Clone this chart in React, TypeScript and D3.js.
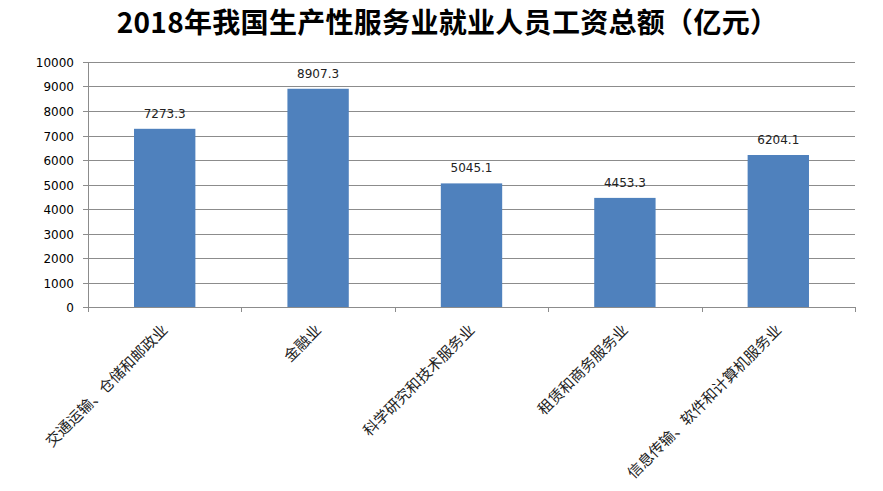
import { useMemo } from "react";
import * as d3 from "d3";

const categories = [
  "交通运输、仓储和邮政业",
  "金融业",
  "科学研究和技术服务业",
  "租赁和商务服务业",
  "信息传输、软件和计算机服务业",
];
const values = [7273.3, 8907.3, 5045.1, 4453.3, 6204.1];
const yTicks = [0, 1000, 2000, 3000, 4000, 5000, 6000, 7000, 8000, 9000, 10000];
const title = "2018年我国生产性服务业就业人员工资总额（亿元）";

const W = 883;
const H = 491;
const margin = { top: 62, right: 28, bottom: 184, left: 88 };

export default function App() {
  const innerW = W - margin.left - margin.right;
  const innerH = H - margin.top - margin.bottom;

  const x = useMemo(
    () => d3.scaleBand<string>().domain(categories).range([0, innerW]).paddingInner(0.6).paddingOuter(0.3),
    [innerW]
  );
  const y = useMemo(() => d3.scaleLinear().domain([0, 10000]).range([innerH, 0]), [innerH]);

  const step = x.step();
  const numFont = "'DejaVu Sans', Verdana, sans-serif";

  return (
    <svg width={W} height={H} style={{ position: "absolute", left: 0, top: 0, background: "#fff" }}>
      <text
        x={W / 2 + 6}
        y={33}
        textAnchor="middle"
        fontFamily="'Noto Sans CJK SC', sans-serif"
        fontWeight="bold"
        fontSize={28}
        letterSpacing={0.3}
        fill="#000"
      >
        {title}
      </text>
      <g transform={`translate(${margin.left},${margin.top})`}>
        {/* grid lines */}
        {yTicks.map((t) => (
          <line key={"g" + t} x1={0} x2={innerW} y1={Math.round(y(t)) + 0.5} y2={Math.round(y(t)) + 0.5} stroke="#8c8c8c" strokeWidth={1} />
        ))}
        {/* y axis */}
        <line x1={0.5} x2={0.5} y1={0} y2={innerH} stroke="#8c8c8c" />
        {yTicks.map((t) => (
          <g key={"t" + t} transform={`translate(0,${Math.round(y(t)) + 0.5})`}>
            <line x1={-5} x2={0} stroke="#8c8c8c" />
            <text x={-14} dy="0.35em" textAnchor="end" fontFamily={numFont} fontSize={12} fill="#000">
              {t}
            </text>
          </g>
        ))}
        {/* bars */}
        {categories.map((c, i) => (
          <rect
            key={"b" + c}
            x={x(c)}
            y={y(values[i])}
            width={x.bandwidth()}
            height={innerH - y(values[i])}
            fill="#4f81bd"
          />
        ))}
        {/* data labels */}
        {categories.map((c, i) => (
          <text
            key={"l" + c}
            x={(x(c) ?? 0) + x.bandwidth() / 2}
            y={y(values[i]) - 11}
            textAnchor="middle"
            fontFamily={numFont}
            fontSize={12}
            fill="#222"
          >
            {values[i].toFixed(1)}
          </text>
        ))}
        {/* x axis */}
        <line x1={0} x2={innerW} y1={innerH + 0.5} y2={innerH + 0.5} stroke="#8c8c8c" />
        {d3.range(categories.length + 1).map((k) => (
          <line
            key={"xt" + k}
            x1={Math.round(k * step) + 0.5}
            x2={Math.round(k * step) + 0.5}
            y1={innerH}
            y2={innerH + 5}
            stroke="#8c8c8c"
          />
        ))}
        {categories.map((c) => {
          const cx = (x(c) ?? 0) + x.bandwidth() / 2;
          return (
            <text
              key={"c" + c}
              transform={`translate(${cx + 4},${innerH + 24}) rotate(-45)`}
              textAnchor="end"
              fontFamily="'Noto Sans CJK SC', sans-serif"
              fontSize={15}
              fill="#222"
            >
              {c}
            </text>
          );
        })}
      </g>
    </svg>
  );
}
